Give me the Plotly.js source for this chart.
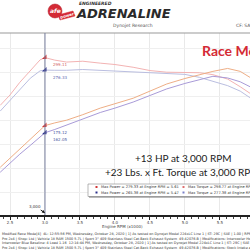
<!DOCTYPE html>
<html>
<head>
<meta charset="utf-8">
<script src="https://cdn.plot.ly/plotly-3.0.1.min.js"></script>
<style>html,body{margin:0;padding:0;background:#fff;}#chart{width:250px;height:250px;}</style>
</head>
<body>
<div id="chart"></div>
<script>
// ---- data ----
const rpm      = [2.36, 2.5, 2.64, 2.79, 2.93, 3.0, 3.14, 3.31, 3.54, 3.79, 4.0, 4.26, 4.5, 4.74, 5.0, 5.21, 5.4, 5.61, 5.79, 5.93];
const torqueA  = [212, 231, 254, 276, 295, 299.11, 294.5, 291, 292.5, 289, 286.5, 281.5, 275.5, 272.5, 272.5, 271.5, 268, 260, 246, 234];
const torqueB  = [201.5, 221.5, 241.5, 261.5, 275, 276.33, 276, 276, 277.4, 276, 274, 272.5, 272, 270.5, 268.5, 263, 256, 248, 238, 226];
const powerA   = [99, 116, 133, 150, 167, 175.12, 180, 185, 195, 207, 215, 225, 238, 251, 261, 268, 274, 279.33, 274, 263];
const powerB   = [90, 107, 123, 139, 155, 162.05, 168, 176, 187, 199, 207, 218, 230, 242, 252, 259, 265, 262, 255, 246];
const cursorRpm = 3.0;
const cursorVals = [299.11, 276.33, 175.12, 162.05];
const cursorLabels = ["299.11", "276.33", "175.12", "162.05"];
const maxPower  = [[279.33, 5.61], [265.38, 5.47]];
const maxTorque = [[298.77, 3.00], [277.38, 3.54]];
const xTicks = [2.5, 3.0, 3.5, 4.0, 4.5, 5.0, 5.5];
const gainText = ["+13 HP at 3,000 RPM", "+23 Lbs. x Ft. Torque at 3,000 RPM"];

// ---- helpers: pixel -> paper ----
const W = 250, TOP = 33, BOT = 215;
const px = x => x / W;
const py = y => (BOT - y) / (BOT - TOP);

const cTA = "#f3b3b3", cTB = "#babee0", cPA = "#eeae86", cPB = "#a99bd8";

const traces = [
  {x: rpm, y: torqueA, mode: "lines", line: {color: cTA, width: 1}, hoverinfo: "skip"},
  {x: rpm, y: torqueB, mode: "lines", line: {color: cTB, width: 1}, hoverinfo: "skip"},
  {x: rpm, y: powerA,  mode: "lines", line: {color: cPA, width: 1}, hoverinfo: "skip"},
  {x: rpm, y: powerB,  mode: "lines", line: {color: cPB, width: 1}, hoverinfo: "skip"},
  {x: cursorVals.map(() => cursorRpm), y: cursorVals, mode: "markers",
   marker: {symbol: "triangle-se", size: 5, color: ["#d03535", "#2a2f8a", "#d03535", "#2a2f8a"]}, hoverinfo: "skip"}
];

const labelColors = ["#d06060", "#5a66b0", "#4a58a0", "#4a58a0"];
const ann = [];
cursorVals.forEach((v, i) => {
  ann.push({x: cursorRpm, y: v, xref: "x", yref: "y", text: cursorLabels[i], showarrow: false,
    xanchor: "left", yanchor: "middle", xshift: 6, yshift: -7, font: {size: 4, color: labelColors[i], family: "DejaVu Sans"}});
});

// header
ann.push({x: px(77), y: py(3.8), xref: "paper", yref: "paper", text: "<b><i>ENGINEERED</i></b>", showarrow: false,
  xanchor: "left", yanchor: "middle", font: {size: 4.5, color: "#333", family: "DejaVu Sans"}});
ann.push({x: px(74), y: py(14), xref: "paper", yref: "paper", text: "<b><i>ADRENALINE</i></b>", showarrow: false,
  xanchor: "left", yanchor: "middle", font: {size: 13, color: "#2a2a2a", family: "DejaVu Sans"}});
ann.push({x: px(133), y: py(25.5), xref: "paper", yref: "paper", text: "Dynojet Research", showarrow: false,
  xanchor: "center", yanchor: "middle", font: {size: 4.5, color: "#555", family: "DejaVu Sans"}});
ann.push({x: px(234), y: py(25.5), xref: "paper", yref: "paper", text: "CF: SAE", showarrow: false,
  xanchor: "left", yanchor: "middle", font: {size: 4.5, color: "#555", family: "DejaVu Sans"}});
ann.push({x: px(55), y: py(10), xref: "paper", yref: "paper", text: "<b><i>afe</i></b>", showarrow: false,
  xanchor: "center", yanchor: "middle", font: {size: 6, color: "#fff", family: "DejaVu Sans"}});
ann.push({x: px(66.5), y: py(15.5), xref: "paper", yref: "paper", text: "<b>power</b>", showarrow: false, textangle: -15,
  xanchor: "center", yanchor: "middle", font: {size: 4, color: "#fff", family: "DejaVu Sans"}});

// Race mode
ann.push({x: px(200), y: py(50), xref: "paper", yref: "paper", text: "<b>Race Mode</b>", showarrow: false,
  xanchor: "left", yanchor: "middle", font: {size: 14, color: "#d42a35", family: "Lato"}});

// gain texts
ann.push({x: px(133), y: py(158), xref: "paper", yref: "paper", text: gainText[0], showarrow: false,
  xanchor: "left", yanchor: "middle", font: {size: 10, color: "#222", family: "Lato"}});
ann.push({x: px(103), y: py(172), xref: "paper", yref: "paper", text: gainText[1], showarrow: false,
  xanchor: "left", yanchor: "middle", font: {size: 10, color: "#222", family: "Lato"}});

// legend box text
const legRows = [
  ["Max Power = " + maxPower[0][0].toFixed(2) + " at Engine RPM = " + maxPower[0][1].toFixed(2),
   "Max Torque = " + maxTorque[0][0].toFixed(2) + " at Engine RPM = " + maxTorque[0][1].toFixed(2)],
  ["Max Power = " + maxPower[1][0].toFixed(2) + " at Engine RPM = " + maxPower[1][1].toFixed(2),
   "Max Torque = " + maxTorque[1][0].toFixed(2) + " at Engine RPM = " + maxTorque[1][1].toFixed(2)]
];
const rowY = [187, 192.5];
legRows.forEach((r, i) => {
  ann.push({x: px(99), y: py(rowY[i]), xref: "paper", yref: "paper", text: r[0], showarrow: false,
    xanchor: "left", yanchor: "middle", font: {size: 3.6, color: "#333", family: "DejaVu Sans"}});
  ann.push({x: px(186), y: py(rowY[i]), xref: "paper", yref: "paper", text: r[1], showarrow: false,
    xanchor: "left", yanchor: "middle", font: {size: 3.6, color: "#333", family: "DejaVu Sans"}});
});

// 3,000 cursor marker at axis
ann.push({x: cursorRpm, y: py(213), xref: "x", yref: "paper", text: "3,000", showarrow: true, arrowhead: 2,
  arrowsize: 0.6, arrowwidth: 1, arrowcolor: "#111", ax: -10, ay: -7, font: {size: 4, color: "#333", family: "DejaVu Sans"}});

// axis title
ann.push({x: px(122), y: py(226), xref: "paper", yref: "paper", text: "Engine RPM (x1000)", showarrow: false,
  xanchor: "center", yanchor: "middle", font: {size: 4, color: "#444", family: "DejaVu Sans"}});

// footer
const footer = [
  "Modified Race Mode[4]  4L: 12:55:56 PM, Wednesday, October 28, 2020 | 1] As tested on Dynojet Model 224xLC Line 1 | ST: 29C | SAE | 1.00 | RPM Source: Direct | Inductive",
  "Pro 2x4 | Shop: Ltd | Vehicle 18 RAM 1500 5.7L | Sport 3\" 409 Stainless Steel Cat-Back Exhaust System  49-42076-B | Modifications: Intercooler Hot and Cold Side Tubes 46-20306",
  "Intercooler Blue Baseline: 4 Load 1.16  12:14:44 PM, Wednesday, October 28, 2020 | 1] As tested on Dynojet Model 224xLC Line 1 | ST: 29C | SAE | 1.00 | RPM Source: Direct",
  "Pro 2x4 | Shop: Ltd | Vehicle 18 RAM 1500 5.7L | Sport 3\" 409 Stainless Steel Cat-Back Exhaust System  49-42076-B | Modifications: Stock Intake and Tubes 46-20306"
];
const footY = [234, 238.5, 243, 247.5];
footer.forEach((t, i) => {
  ann.push({x: px(0), y: py(footY[i]), xref: "paper", yref: "paper", text: t, showarrow: false,
    xanchor: "left", yanchor: "middle", font: {size: 3.4, color: "#333", family: "DejaVu Sans"}});
});

const shapes = [
  {type: "line", xref: "paper", yref: "paper", x0: 0, x1: 1, y0: 1, y1: 1, line: {color: "#999", width: 1}},
  {type: "line", xref: "x", yref: "paper", x0: cursorRpm, x1: cursorRpm, y0: 0, y1: 1, line: {color: "#7a80a0", width: 1}},
  {type: "circle", xref: "paper", yref: "paper", x0: px(48), x1: px(62), y0: py(18), y1: py(4), fillcolor: "#d42a35", line: {color: "#b01e28", width: 0.5}},
  {type: "path", xref: "paper", yref: "paper",
   path: "M " + px(58) + " " + py(15) + " L " + px(73) + " " + py(11) + " L " + px(75) + " " + py(16) + " L " + px(60) + " " + py(20) + " Z",
   fillcolor: "#d42a35", line: {color: "#d42a35", width: 0.5}},
  {type: "rect", xref: "paper", yref: "paper", x0: px(89), x1: px(253), y0: py(197.5), y1: py(185), fillcolor: "#777", line: {width: 0}},
  {type: "rect", xref: "paper", yref: "paper", x0: px(88), x1: px(252), y0: py(196.5), y1: py(184), fillcolor: "#fff", line: {color: "#888", width: 0.6}},
  {type: "rect", xref: "paper", yref: "paper", x0: px(95.5), x1: px(97.5), y0: py(188), y1: py(186), fillcolor: "#d03535", line: {width: 0}},
  {type: "rect", xref: "paper", yref: "paper", x0: px(95.5), x1: px(97.5), y0: py(193.5), y1: py(191.5), fillcolor: "#2a2f8a", line: {width: 0}},
  {type: "rect", xref: "paper", yref: "paper", x0: px(182.5), x1: px(184.5), y0: py(188), y1: py(186), fillcolor: "#e07070", line: {width: 0}},
  {type: "rect", xref: "paper", yref: "paper", x0: px(182.5), x1: px(184.5), y0: py(193.5), y1: py(191.5), fillcolor: "#7a80c8", line: {width: 0}}
];

const layout = {
  width: 250, height: 250,
  margin: {l: 0, r: 0, t: TOP, b: 250 - BOT, pad: 0},
  paper_bgcolor: "#fff", plot_bgcolor: "#fff",
  showlegend: false,
  font: {family: "DejaVu Sans", size: 5, color: "#333"},
  xaxis: {
    range: [2.357, 5.93], tickmode: "array", tickvals: xTicks, ticktext: xTicks.map(v => v.toFixed(1)),
    showgrid: true, gridcolor: "#e9e9e9", gridwidth: 1, zeroline: false,
    showline: true, linecolor: "#222", linewidth: 1.5,
    ticks: "outside", ticklen: 3, tickcolor: "#222", tickwidth: 1,
    minor: {ticks: "outside", ticklen: 2, dtick: 0.1, tickcolor: "#444", showgrid: false},
    tickfont: {size: 4, color: "#444"}
  },
  yaxis: {
    range: [12, 344], showticklabels: false, ticks: "", zeroline: false, showline: false,
    tick0: 9.8, dtick: 43.8, showgrid: true, gridcolor: "#efefef", gridwidth: 1
  },
  annotations: ann,
  shapes: shapes
};

Plotly.newPlot("chart", traces, layout, {staticPlot: true, displayModeBar: false});
</script>
</body>
</html>
